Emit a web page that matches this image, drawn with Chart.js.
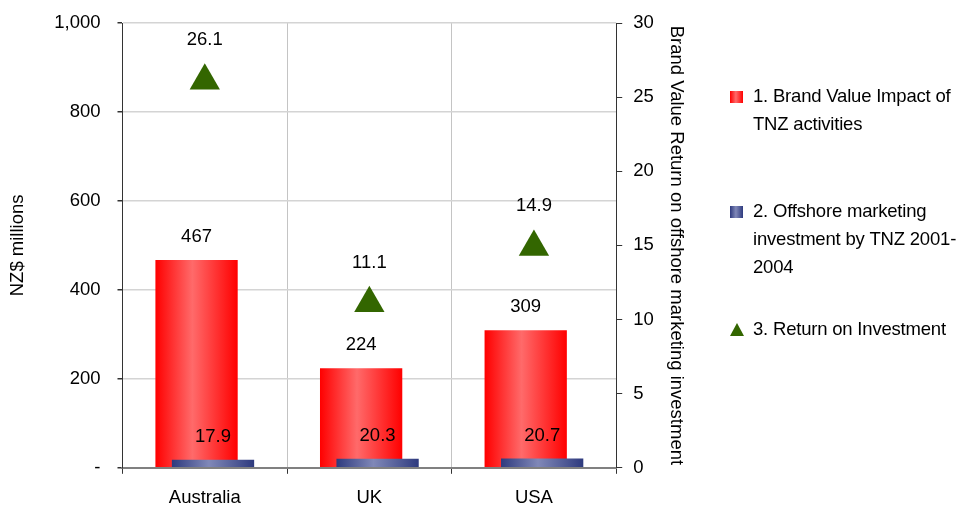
<!DOCTYPE html>
<html>
<head>
<meta charset="utf-8">
<script src="https://cdn.jsdelivr.net/npm/chart.js@4.4.1/dist/chart.umd.min.js"></script>
<style>
  html, body { margin: 0; padding: 0; background: #fff; }
  #wrap { width: 958px; height: 511px; }
</style>
</head>
<body>
<div id="wrap"><canvas id="chart" width="958" height="511"></canvas></div>
<script>
const categories = ["Australia", "UK", "USA"];
const brandValue = [467, 224, 309];
const offshoreInvestment = [17.9, 20.3, 20.7];
const returnOnInvestment = [26.1, 11.1, 14.9];

const seriesNames = [
  ["1. Brand Value Impact of", "TNZ activities"],
  ["2. Offshore marketing", "investment by TNZ 2001-", "2004"],
  ["3. Return on Investment"]
];
const leftAxisTitle = "NZ$ millions";
const rightAxisTitle = "Brand Value Return on offshore marketing investment";

const FONT = "'Liberation Sans', Arial, sans-serif";
const FSIZE = 18.5;
const barShift = [-0.05, 0.05];   // fraction of a category, red left / blue right

function barGradient(c, shift, edge, mid) {
  const chart = c.chart;
  const x = chart.scales.x;
  if (!x || !chart.chartArea) return edge;
  const step = x.width / categories.length;
  const center = x.getPixelForValue(c.dataIndex) + step * shift;
  const w = step * 0.5;
  const g = chart.ctx.createLinearGradient(center - w / 2, 0, center + w / 2, 0);
  g.addColorStop(0, edge);
  g.addColorStop(0.45, mid);
  g.addColorStop(1, edge);
  return g;
}

// Excel-style overlapping bars: shift the two bar series sideways
const overlapShift = {
  id: "overlapShift",
  afterDatasetsUpdate(chart) {
    const step = chart.scales.x.width / categories.length;
    barShift.forEach((f, di) => {
      chart.getDatasetMeta(di).data.forEach(el => { el.x += step * f; });
    });
  }
};

const valueLabels = {
  id: "valueLabels",
  afterDatasetsDraw(chart) {
    const ctx = chart.ctx;
    ctx.save();
    ctx.font = FSIZE + "px " + FONT;
    ctx.fillStyle = "#000";
    ctx.textAlign = "center";
    ctx.textBaseline = "middle";
    chart.data.datasets.forEach((ds, di) => {
      const meta = chart.getDatasetMeta(di);
      meta.data.forEach((el, i) => {
        let top = el.y;
        if (meta.type === "line") top = el.y - el.options.radius;
        ctx.fillText(String(ds.data[i]), el.x, top - 23);
      });
    });
    ctx.restore();
  }
};

const sideLegend = {
  id: "sideLegend",
  afterDraw(chart) {
    const ctx = chart.ctx;
    const itemY = [97, 212, 330];
    const markX = 730, textX = 753, lineH = 28;
    ctx.save();
    ctx.font = FSIZE + "px " + FONT;
    ctx.letterSpacing = "-0.2px";
    ctx.textAlign = "left";
    ctx.textBaseline = "middle";
    seriesNames.forEach((lines, i) => {
      const y = itemY[i];
      if (i < 2) {
        const g = ctx.createLinearGradient(markX, 0, markX + 13, 0);
        const cols = i === 0 ? ["#ff0000", "#ff6a6a"] : ["#2e3a7e", "#8088b8"];
        g.addColorStop(0, cols[0]); g.addColorStop(0.45, cols[1]); g.addColorStop(1, cols[0]);
        ctx.fillStyle = g;
        ctx.fillRect(markX, y - 6, 13, 12);
      } else {
        ctx.fillStyle = "#336600";
        ctx.beginPath();
        ctx.moveTo(markX + 7, y - 7);
        ctx.lineTo(markX + 14, y + 6);
        ctx.lineTo(markX, y + 6);
        ctx.closePath();
        ctx.fill();
      }
      ctx.fillStyle = "#000";
      lines.forEach((t, k) => ctx.fillText(t, textX, y + k * lineH));
    });
    ctx.restore();
  }
};

// keep the tick padding from pushing the plot down
const noEdgePadding = s => { s.paddingTop = 0; s.paddingBottom = 0; };

new Chart(document.getElementById("chart"), {
  type: "bar",
  data: {
    labels: categories,
    datasets: [
      {
        label: seriesNames[0].join(" "),
        data: brandValue,
        yAxisID: "y",
        order: 2,
        backgroundColor: c => barGradient(c, barShift[0], "#ff0000", "#ff6a6a")
      },
      {
        label: seriesNames[1].join(" "),
        data: offshoreInvestment,
        yAxisID: "y",
        order: 1,
        backgroundColor: c => barGradient(c, barShift[1], "#2e3a7e", "#8088b8")
      },
      {
        type: "line",
        label: seriesNames[2].join(" "),
        data: returnOnInvestment,
        yAxisID: "y1",
        order: 0,
        showLine: false,
        pointStyle: "triangle",
        pointRadius: 17.5,
        pointHoverRadius: 17.5,
        pointBackgroundColor: "#336600",
        pointBorderColor: "#336600",
        pointBorderWidth: 0
      }
    ]
  },
  options: {
    responsive: false,
    animation: false,
    events: [],
    datasets: { bar: { grouped: false, barPercentage: 0.5, categoryPercentage: 1 } },
    layout: { padding: { left: 0, right: 271, top: 23, bottom: -11 } },
    plugins: {
      legend: { display: false },
      tooltip: { enabled: false }
    },
    scales: {
      x: {
        offset: true,
        grid: { offset: true, color: "#c4c4c4", tickColor: "#333", tickLength: 6, lineWidth: 1 },
        border: { color: "#808080", width: 2 },
        ticks: { color: "#000", font: { family: FONT, size: FSIZE }, padding: 13 }
      },
      y: {
        position: "left",
        min: 0,
        max: 1000,
        afterFit: noEdgePadding,
        ticks: {
          stepSize: 200,
          color: "#000",
          font: { family: FONT, size: FSIZE },
          padding: 17,
          callback: v => v === 0 ? "-" : v.toLocaleString("en-US")
        },
        grid: { color: "#d4d4d4", lineWidth: 1.5, tickColor: "#333", tickLength: 5 },
        border: { color: "#333", width: 1 },
        title: {
          display: true,
          text: leftAxisTitle,
          color: "#000",
          font: { family: FONT, size: FSIZE },
          padding: { top: 7, bottom: 8 }
        }
      },
      y1: {
        position: "right",
        min: 0,
        max: 30,
        afterFit: noEdgePadding,
        ticks: { stepSize: 5, color: "#000", font: { family: FONT, size: FSIZE }, padding: 11 },
        grid: { drawOnChartArea: false, tickColor: "#333", tickLength: 6 },
        border: { color: "#333", width: 1 },
        title: {
          display: true,
          text: rightAxisTitle,
          color: "#000",
          font: { family: FONT, size: FSIZE },
          padding: { top: 0, bottom: 0 }
        }
      }
    }
  },
  plugins: [overlapShift, valueLabels, sideLegend]
});
</script>
</body>
</html>
